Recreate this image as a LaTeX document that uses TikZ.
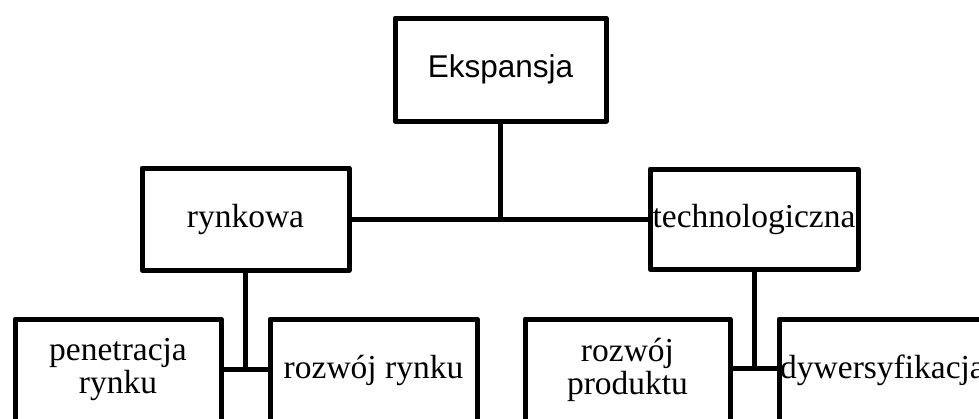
\documentclass[tikz,border=0pt]{standalone}
\usepackage{fontspec}
\setmainfont{Liberation Serif}
\newfontfamily\headfont{Liberation Sans}
\usepackage{tikz}

\begin{document}
\begin{tikzpicture}[x=1pt,y=-1pt,line width=5pt,line join=round,
  box node/.style={rectangle,draw,inner sep=0pt,minimum width=207pt,
    minimum height=102pt,align=center,font=\fontsize{33.5}{33}\selectfont}]
\clip (0,0) rectangle (979,418);
\node[box node,minimum width=211pt,minimum height=103pt,
  font=\headfont\fontsize{31.5}{33}\selectfont] (top) at (500.5,69.5) {Ekspansja};
\node[box node] (rynk) at (245.5,219) {rynkowa};
\node[box node,minimum width=208pt,minimum height=100pt] (tech) at (754,219) {technologiczna};
\node[box node,minimum width=206pt] (pene) at (118,370) {penetracja\\rynku};
\node[box node] (rozr) at (373.5,370) {rozwój rynku};
\node[box node,minimum width=205pt] (rozp) at (627.5,370) {rozwój\\produktu};
\node[box node] (dyw) at (882.5,370) {dywersyfikacja};
\draw (rynk) -- (tech);
\draw (top.south) -- (top.south |- rynk.east);
\draw (pene.east |- 0,369) -- (rozr.west |- 0,369);
\draw (rynk.south) -- (rynk.south |- 0,369);
\draw (rozp.east |- 0,368) -- (dyw.west |- 0,368);
\draw (tech.south) -- (tech.south |- 0,368);
\end{tikzpicture}
\end{document}
